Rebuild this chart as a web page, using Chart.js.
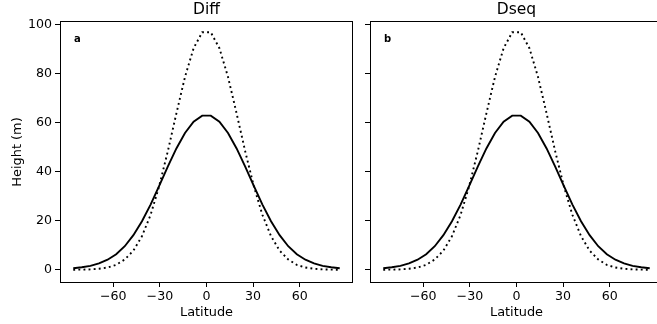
<!DOCTYPE html>
<html><head><meta charset="utf-8">
<script src="https://cdn.jsdelivr.net/npm/chart.js@4.4.0/dist/chart.umd.min.js"></script>
<style>
html,body{margin:0;padding:0;background:#fff;overflow:hidden;width:657px;height:324px;}
#w1{position:absolute;left:0;top:0;width:360px;height:324px;}
#w2{position:absolute;left:360px;top:0;width:310px;height:324px;}
</style></head><body>
<div id="w1"><canvas id="c1"></canvas></div>
<div id="w2"><canvas id="c2"></canvas></div>
<script>
// Gaussian-grid latitudes (degrees)
const latitudes = [-85.761,-80.269,-74.745,-69.213,-63.679,-58.143,-52.607,-47.070,-41.532,-35.995,-30.458,-24.920,-19.382,-13.844,-8.306,-2.769,
                   2.769,8.306,13.844,19.382,24.920,30.458,35.995,41.532,47.070,52.607,58.143,63.679,69.213,74.745,80.269,85.761];
// Panel a (Diff)
const diffSolid  = [0.7,1.1,1.7,2.7,4.2,6.4,9.7,14.2,19.9,26.7,34.3,42.2,49.6,55.9,60.5,63.0,
                    63.0,60.5,55.9,49.6,42.2,34.3,26.7,19.9,14.2,9.7,6.4,4.2,2.7,1.7,1.1,0.7];
const diffDotted = [0.1,0.15,0.25,0.5,1.0,2.1,4.3,7.9,13.8,22.5,34.2,48.4,63.9,78.8,90.5,97.0,
                    97.0,90.5,78.8,63.9,48.4,34.2,22.5,13.8,7.9,4.3,2.1,1.0,0.5,0.25,0.15,0.1];
// Panel b (Dseq)
const dseqSolid  = [0.7,1.1,1.7,2.7,4.2,6.4,9.7,14.2,19.9,26.7,34.3,42.2,49.6,55.9,60.5,63.0,
                    63.0,60.5,55.9,49.6,42.2,34.3,26.7,19.9,14.2,9.7,6.4,4.2,2.7,1.7,1.1,0.7];
const dseqDotted = [0.1,0.15,0.25,0.5,1.0,2.1,4.3,7.9,13.8,22.5,34.2,48.4,63.9,78.8,90.5,97.0,
                    97.0,90.5,78.8,63.9,48.4,34.2,22.5,13.8,7.9,4.3,2.1,1.0,0.5,0.25,0.15,0.1];
const xTicks = [-60,-30,0,30,60];
const yTicks = [0,20,40,60,80,100];
const panelTitles = ['Diff','Dseq'];
const panelLetters = ['a','b'];

const FONT = 'DejaVu Sans';
const fmt = v => (v < 0 ? '\u2212' + Math.abs(v) : String(v));

function pts(xs, ys){ return xs.map((x,i)=>({x:x, y:ys[i]})); }

const framePlugin = {
  id:'frame',
  afterDatasetsDraw(chart){
    const a = chart.chartArea, ctx = chart.ctx;
    ctx.save();
    ctx.strokeStyle = '#000';
    ctx.lineWidth = 1;
    ctx.strokeRect(Math.round(a.left)+0.5, Math.round(a.top)-0.5, Math.round(a.right-a.left)-1, Math.round(a.bottom-a.top)+1);
    const o = chart.options.plugins.panel;
    ctx.fillStyle = '#000';
    ctx.font = '15.5px "' + FONT + '"';
    ctx.textAlign = 'center';
    ctx.textBaseline = 'middle';
    ctx.fillText(o.title, (a.left+a.right)/2, 10);
    ctx.font = 'bold 10px "' + FONT + '"';
    ctx.textAlign = 'left';
    ctx.fillText(o.letter, a.left + 14, 39);
    ctx.restore();
  }
};

function makeChart(id, solid, dotted, idx, showY){
  const yWidth = showY ? 60 : 10;
  return new Chart(document.getElementById(id), {
    type:'line',
    data:{ datasets:[
      { data: pts(latitudes, solid), borderColor:'#000', borderWidth:1.9, pointRadius:0, tension:0, fill:false },
      { data: pts(latitudes, dotted), borderColor:'#000', borderWidth:1.9, borderDash:[1.9,3.2], pointRadius:0, tension:0, fill:false }
    ]},
    options:{
      responsive:true, maintainAspectRatio:false, animation:false, devicePixelRatio:1,
      layout:{ padding:{ left:0, top:22, right:7, bottom:0 } },
      plugins:{ legend:{display:false}, tooltip:{enabled:false}, panel:{ title: panelTitles[idx], letter: panelLetters[idx] } },
      scales:{
        x:{ type:'linear', min:-94.3, max:94.3,
            afterBuildTicks: s => { s.ticks = xTicks.map(v=>({value:v})); },
            afterFit: s => { s.height = 42; },
            grid:{ display:true, drawOnChartArea:false, drawTicks:true, tickLength:5, color:'#000', lineWidth:1 },
            border:{ display:false },
            ticks:{ color:'#000', font:{family:FONT, size:12.6}, padding:2, maxRotation:0, callback: v => fmt(v) },
            title:{ display:true, text:'Latitude', color:'#000', font:{family:FONT, size:12.9}, padding:{top:0,bottom:3.5} }
        },
        y:{ type:'linear', min:-4.9, max:101.2,
            afterBuildTicks: s => { s.ticks = yTicks.map(v=>({value:v})); },
            afterFit: s => { s.width = yWidth; },
            grid:{ display:true, drawOnChartArea:false, drawTicks:true, tickLength:5, color:'#000', lineWidth:1 },
            border:{ display:false },
            ticks:{ color:'#000', font:{family:FONT, size:12.6}, padding:3, callback: v => showY ? fmt(v) : '' },
            title:{ display:showY, text:'Height (m)', color:'#000', font:{family:FONT, size:12.9}, padding:{top:10,bottom:0} }
        }
      }
    },
    plugins:[framePlugin]
  });
}
makeChart('c1', diffSolid, diffDotted, 0, true);
makeChart('c2', dseqSolid, dseqDotted, 1, false);
</script>
</body></html>
